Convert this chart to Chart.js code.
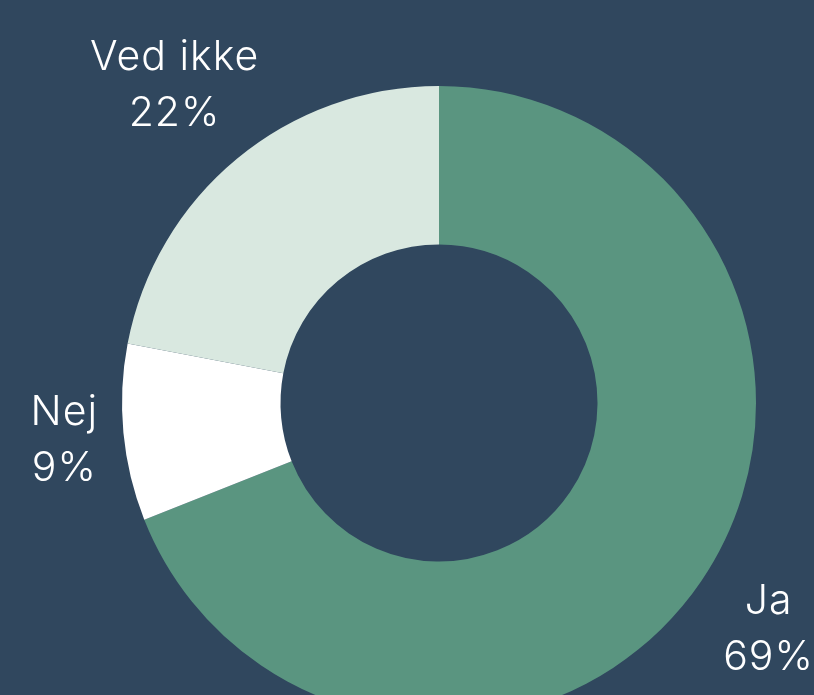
<!DOCTYPE html>
<html>
<head>
<meta charset="utf-8">
<script src="https://cdn.jsdelivr.net/npm/chart.js@4"></script>
<style>
html, body { margin: 0; padding: 0; background: #30475e; overflow: hidden; }
#wrap { position: absolute; left: 0; top: 0; width: 814px; height: 800px; }
</style>
</head>
<body>
<div id="wrap"><canvas id="mycanvas"></canvas></div>
<script>
var kategorier = ['Ja', 'Nej', 'Ved ikke'];
var procenter = [69, 9, 22];
var farver = ['#5a9580', '#ffffff', '#d9e8e0'];

// labels outside the ring, centred on each slice's middle angle
var etiketter = {
	id: 'etiketter',
	afterDraw: function(chart) {
		var ctx = chart.ctx;
		var meta = chart.getDatasetMeta(0);
		ctx.save();
		ctx.font = '300 41px Inter, "Noto Sans", sans-serif';
		ctx.letterSpacing = '1px';
		ctx.fillStyle = '#ffffff';
		ctx.textAlign = 'center';
		ctx.textBaseline = 'alphabetic';
		var lineH = 56;
		meta.data.forEach(function(arc, i) {
			var linjer = [kategorier[i], procenter[i] + '%'];
			var w = Math.max(ctx.measureText(linjer[0]).width, ctx.measureText(linjer[1]).width);
			var h = lineH * 2;
			var mid = (arc.startAngle + arc.endAngle) / 2;
			var cx = Math.cos(mid), cy = Math.sin(mid);
			var gap = 26;
			var d = Math.min(Math.abs(cx) > 0.001 ? (w / 2) / Math.abs(cx) : 1e9,
				Math.abs(cy) > 0.001 ? (h / 2) / Math.abs(cy) : 1e9);
			var r = arc.outerRadius + gap + d;
			var x = arc.x + cx * r + 0.5;
			var y = arc.y + cy * r;
			ctx.fillText(linjer[0], x, y - 13);
			ctx.fillText(linjer[1], x, y + 43);
		});
		ctx.restore();
	}
};

var barGraph = new Chart(document.getElementById('mycanvas'), {
	type: 'doughnut',
	data: {
		labels: kategorier,
		datasets: [{
			data: procenter,
			backgroundColor: farver,
			borderWidth: 0
		}]
	},
	options: {
		responsive: true,
		maintainAspectRatio: false,
		animation: false,
		cutout: '50%',
		layout: { padding: { left: 122, right: 58, top: 86, bottom: 80 } },
		plugins: {
			legend: { display: false },
			tooltip: { enabled: false }
		}
	},
	plugins: [etiketter]
});
</script>
</body>
</html>
